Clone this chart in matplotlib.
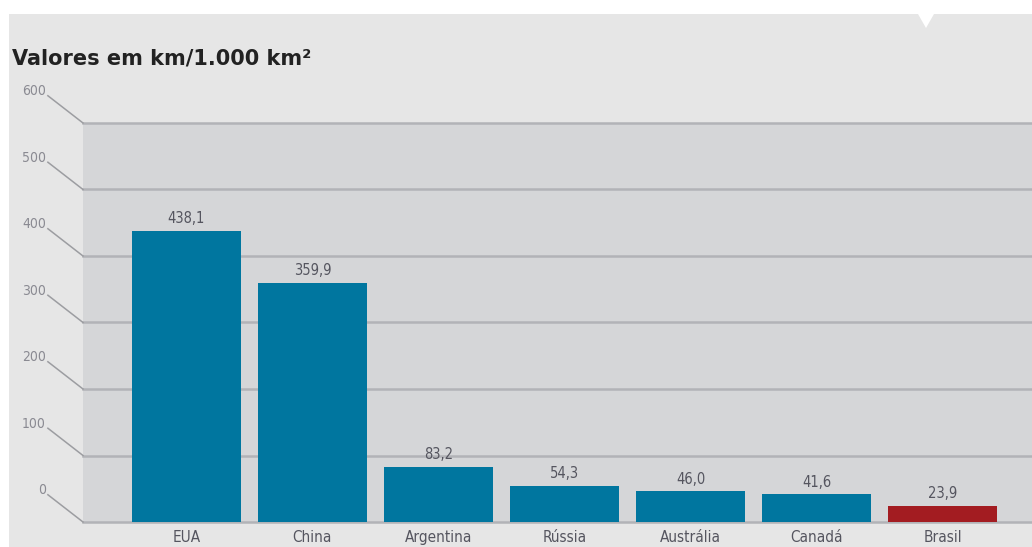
import matplotlib.pyplot as plt
from matplotlib.patches import Rectangle, Polygon

# data
paises = ["EUA", "China", "Argentina", "Rússia", "Austrália", "Canadá", "Brasil"]
valores = [438.1, 359.9, 83.2, 54.3, 46.0, 41.6, 23.9]
rotulos = ["438,1", "359,9", "83,2", "54,3", "46,0", "41,6", "23,9"]
ticks_y = [0, 100, 200, 300, 400, 500, 600]

azul = "#00769f"
vermelho = "#a31c21"
cores = [vermelho if p == "Brasil" else azul for p in paises]

W, H = 1032, 547
fig = plt.figure(figsize=(W / 100, H / 100), dpi=100, facecolor="white")

# light gray panel behind everything
fig.patches.append(Rectangle((9 / W, 0), 1 - 9 / W, 1 - 14 / H, transform=fig.transFigure,
                             facecolor="#e6e6e6", edgecolor="none", zorder=-2))
# small notch at top
fig.patches.append(Polygon([(918 / W, 1 - 14 / H), (934 / W, 1 - 14 / H), (926 / W, 1 - 28 / H)],
                           closed=True, transform=fig.transFigure,
                           facecolor="white", edgecolor="none", zorder=-1))

ax = fig.add_axes([83 / W, 25 / H, (W - 83) / W, (522 - 123) / H])
ax.set_zorder(1)
ax.set_facecolor("#d5d6d8")
ax.set_ylim(0, 600)
ax.set_xlim(-0.82, 6.71)

grid_cor = "#b2b3b7"
for v in ticks_y:
    ax.axhline(v, color=grid_cor, lw=1.8, zorder=1, clip_on=False)

x = range(len(paises))
ax.bar(x, valores, width=0.87, color=cores, zorder=2)

for i, (v, r) in enumerate(zip(valores, rotulos)):
    ax.text(i, v + 7, r, ha="center", va="bottom", fontsize=10.5, color="#55555f",
            fontstretch="condensed")

# offset tick labels with diagonal connectors
tr = ax.get_yaxis_transform()
for v in ticks_y:
    ax.plot([-0.037, 0], [v + 41, v], transform=tr, color="#9c9da1", lw=1.1, clip_on=False, zorder=1)
    ax.text(-0.039, v + 48, str(v), transform=tr, ha="right", va="center",
            fontsize=10, color="#8a8a92", fontstretch="condensed")

ax.set_xticks(list(x))
ax.set_xticklabels(paises, fontsize=11, color="#55555f", fontstretch="condensed")
ax.tick_params(axis="x", length=0, pad=6)
ax.set_yticks([])
for s in ax.spines.values():
    s.set_visible(False)

fig.text(12 / W, 1 - 58 / H, "Valores em km/1.000 km²", ha="left", va="center",
         fontsize=15, fontweight="semibold", color="#222222")

fig.savefig("out.png", dpi=100, facecolor=fig.get_facecolor())
